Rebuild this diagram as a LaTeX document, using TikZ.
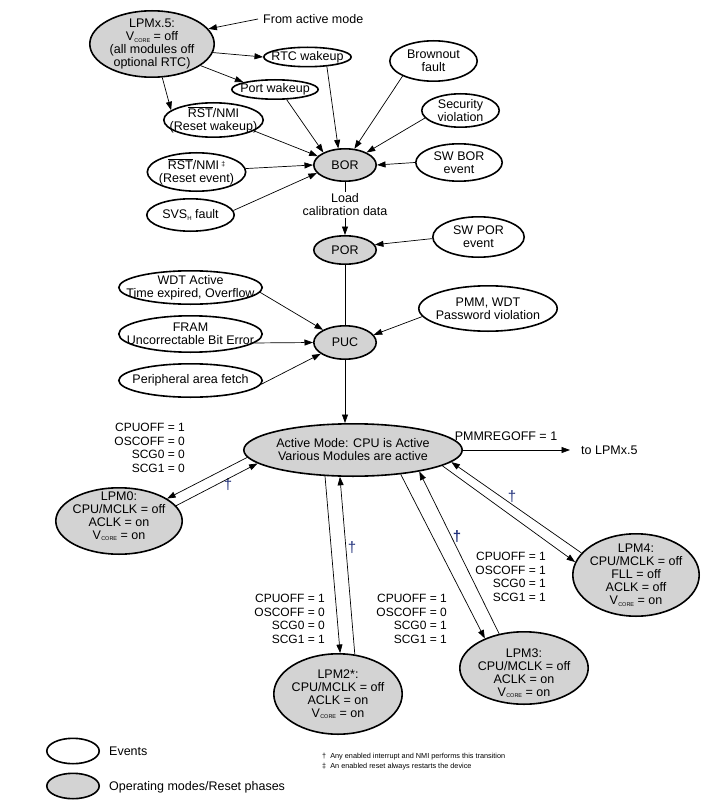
\documentclass[tikz,border=0pt]{standalone}
\usepackage{fontspec}
\setmainfont{Liberation Sans}
\usetikzlibrary{shapes.geometric,arrows.meta}
\definecolor{modegray}{HTML}{D3D3D3}
\definecolor{dagblue}{HTML}{1F2F7A}
\newcommand{\vcore}{V\kern0.2pt\raisebox{-1.6pt}{\fontsize{5.5}{6}\selectfont CORE}}
\newcommand{\rstbar}{$\overline{\hbox{RST}}$}
\newcommand{\nf}{\fontsize{12.5}{13}\selectfont}
\begin{document}
\begin{tikzpicture}[x=1pt,y=-1pt,
 ev/.style 2 args={ellipse,draw,line width=1.6pt,minimum width={2*#1-1.6},minimum height={2*#2-1.6},inner sep=0pt},
 md/.style 2 args={ev={#1}{#2},fill=modegray},
 conn/.style={line width=0.7pt,-{Triangle[length=8.5pt,width=6pt]}},
 plain/.style={line width=0.7pt},
 txt/.style={font=\nf,align=center,inner sep=0pt},
 flags/.style={font=\fontsize{12}{13.7}\selectfont,align=right,inner sep=0pt,anchor=east},
 dag/.style={font=\fontsize{15}{15}\selectfont,text=dagblue,inner sep=0pt},
 every label/.style={font=\nf,align=center,inner sep=0pt}]
\fill[white] (0,0) rectangle (720,805);
\useasboundingbox (0,0) rectangle (720,805);

% top events
\node[md={63}{34}, label={center:{LPMx.5:\\\vcore{} = off\\(all modules off\\optional RTC)}}] (lpmx) at (152,44) {};
\node[txt, anchor=west] (from) at (263,19) {From active mode};
\node[ev={44.5}{10.5}, label={center:{RTC wakeup}}] (rtc) at (307.5,57) {};
\node[ev={44}{10.5}, label={center:{Port wakeup}}] (port) at (275,89.5) {};
\node[ev={50.5}{18}, label={center:{\rstbar/NMI\\(Reset wakeup)}}] (rstw) at (213.5,120) {};
\node[ev={50}{20}, label={center:{\rstbar/NMI\,\raisebox{3pt}{\fontsize{7}{7}\selectfont ‡}\\(Reset event)}}] (rste) at (196.5,172) {};
\node[ev={44.5}{17}, label={center:{SVS\raisebox{-1.6pt}{\fontsize{6}{6}\selectfont H} fault}}] (svs) at (190.5,215) {};
\node[ev={44.5}{21}, label={center:{Brownout\\fault}}] (brown) at (433.5,61) {};
\node[ev={39.5}{17.5}, label={center:{Security\\violation}}] (sec) at (460.5,110.5) {};
\node[ev={44}{19.5}, label={center:{SW BOR\\event}}] (swbor) at (459,162.5) {};
\node[md={32}{17}, label={center:{BOR}}] (bor) at (345,165) {};
\node[txt, inner sep=2pt] (load) at (345,205) {Load\\calibration data};
\node[md={32}{15}, label={center:{POR}}] (por) at (345,250) {};
\node[ev={46.5}{21}, label={center:{SW POR\\event}}] (swpor) at (478.5,237) {};
\node[ev={72.5}{17.5}, label={center:{WDT Active\\Time expired, Overflow}}] (wdt) at (190.5,287.5) {};
\node[ev={72.5}{19}, label={center:{FRAM\\Uncorrectable Bit Error}}] (fram) at (190.5,334) {};
\node[ev={72.5}{17.5}, label={center:{Peripheral area fetch}}] (peri) at (190.5,380.5) {};
\node[ev={70}{23.5}, label={center:{PMM, WDT\\Password violation}}] (pmm) at (488,308.5) {};
\node[md={32}{17.5}, label={center:{PUC}}] (puc) at (345,342.5) {};

% operating modes
\node[md={110}{27}, label={center:{Active Mode: CPU is Active\\Various Modules are active}}] (act) at (353,450) {};
\node[md={64}{34}, label={[yshift=5pt]center:{LPM0:\\CPU/MCLK = off\\ACLK = on\\\vcore{} = on}}] (lpm0) at (119,521) {};
\node[md={65}{41}, label={center:{LPM2*:\\CPU/MCLK = off\\ACLK = on\\\vcore{} = on}}] (lpm2) at (338,694) {};
\node[md={65}{37}, label={[yshift=-5pt]center:{LPM3:\\CPU/MCLK = off\\ACLK = on\\\vcore{} = on}}] (lpm3) at (524,668) {};
\node[md={64}{42}, label={center:{LPM4:\\CPU/MCLK = off\\FLL = off\\ACLK = off\\\vcore{} = on}}] (lpm4) at (636,575) {};

% flag labels
\node[flags] (f0) at (185,448) {CPUOFF = 1\\OSCOFF = 0\\SCG0 = 0\\SCG1 = 0};
\node[flags] (f2) at (325,619) {CPUOFF = 1\\OSCOFF = 0\\SCG0 = 0\\SCG1 = 1};
\node[flags] (f3) at (447,619) {CPUOFF = 1\\OSCOFF = 0\\SCG0 = 1\\SCG1 = 1};
\node[flags] (f4) at (546,577) {CPUOFF = 1\\OSCOFF = 1\\SCG0 = 1\\SCG1 = 1};
\node[txt] (pmmlbl) at (506,436) {PMMREGOFF = 1};
\node[txt, anchor=west] (tolpm) at (581,450) {to LPMx.5};

% daggers
\node[dag] (d0) at (228,485) {†};
\node[dag] (d2) at (352,548) {†};
\node[dag, font=\fontsize{15}{15}\selectfont\bfseries] (d3) at (457,537) {†};
\node[dag] (d4) at (512,497) {†};

% connectors
\draw[conn] ([xshift=-5pt]from.west) -- (lpmx.15);
\draw[conn] (lpmx.352) -- (rtc.west);
\draw[conn] (lpmx.336) -- (port.167);
\draw[conn] (lpmx.287) -- (rstw.167);
\draw[conn] (rtc.334) -- (bor.112);
\draw[conn] (port.319) -- (bor.150);
\draw[conn] (rstw.345) -- (bor.162);
\draw[conn] (rste.4) -- (bor.west);
\draw[conn] (svs.6) -- (bor.196);
\draw[conn] (brown.206) -- (bor.60);
\draw[conn] (sec.192) -- (bor.30);
\draw[conn] (swbor.west) -- (bor.east);
\draw[plain] (bor.south) -- (load.north);
\draw[conn] (load.south) -- (por.north);
\draw[conn] (swpor.182) -- (por.10);
\draw[plain] (por.south) -- (puc.north);
\draw[conn] (wdt.356) -- (puc.150);
\draw[conn] (fram.352) -- (puc.west);
\draw[conn] (peri.357) -- (puc.205);
\draw[conn] (pmm.187) -- (puc.15);
\draw[conn] (puc.south) -- (puc.south |- act.north);
\draw[conn] (act.east) -- ([xshift=-11pt]tolpm.west);
\draw[conn] (act.184) -- (lpm0.25);
\draw[conn] (lpm0.15) -- (act.188);
\draw[conn] (act.223) -- (lpm2.87);
\draw[conn] (lpm2.67) -- (act.244);
\draw[conn] (act.333) -- (lpm3.143);
\draw[conn] (lpm3.126) -- (act.342);
\draw[conn] (act.350) -- (lpm4.168);
\draw[conn] (lpm4.158) -- (act.353);

% legend
\node[ev={27}{13.5}] (legev) at (73,751) {};
\node[txt, anchor=west] (legevt) at (109,751) {Events};
\node[md={27}{13.5}] (legmd) at (73,786) {};
\node[txt, anchor=west] (legmdt) at (109,787) {Operating modes/Reset phases};
\node[font=\fontsize{7.3}{9.8}\selectfont, anchor=north west, align=left, inner sep=0pt] (fn) at (322,753) {†\ \ Any enabled interrupt and NMI performs this transition\\‡\ \ An enabled reset always restarts the device};
\end{tikzpicture}
\end{document}
